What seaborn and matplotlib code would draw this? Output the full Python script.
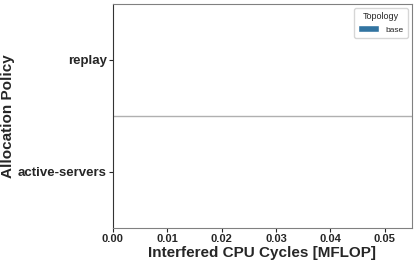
import pandas as pd
import numpy as np
import matplotlib
matplotlib.use('Agg')
import matplotlib.pyplot as plt
from matplotlib.patches import Patch
import seaborn as sns

# data: interfered cycles per policy (all zero in this run)
policies = ['replay', 'active-servers']
topologies = ['base', 'base']
values = [0.0, 0.0]

df = pd.DataFrame({'Allocation Policy': policies,
                   'Topology': topologies,
                   'Interfered CPU Cycles [MFLOP]': values})

sns.set_style('ticks')
plt.rcParams['font.family'] = ['Liberation Sans', 'DejaVu Sans']

fig, ax = plt.subplots(figsize=(4.15, 2.6), dpi=100)
sns.barplot(data=df, y='Allocation Policy', x='Interfered CPU Cycles [MFLOP]',
            hue='Topology', orient='h', palette=['#3274a1'], ax=ax, legend=False)

ax.axhline(0.5, color='#b0b0b0', linewidth=1)
ax.set_xlim(0, 0.055)
ax.set_xticks([0, 0.01, 0.02, 0.03, 0.04, 0.05])
ax.set_xticklabels(['0.00', '0.01', '0.02', '0.03', '0.04', '0.05'], fontsize=8, fontweight='bold')
ax.set_yticklabels(policies, fontsize=9.5, fontweight='bold')
ax.tick_params(axis='both', length=3, pad=1.5)
ax.set_xlabel('Interfered CPU Cycles [MFLOP]', fontsize=11, fontweight='bold', labelpad=1)
ax.set_ylabel('Allocation Policy', fontsize=11, fontweight='bold', labelpad=2)
for s in ['top', 'right', 'bottom']:
    ax.spines[s].set_color('#808080')
ax.spines['left'].set_color('#333333')

handles = [Patch(facecolor='#3274a1', label='base')]
ax.legend(handles=handles, title='Topology', loc='upper right', fontsize=6,
          title_fontsize=6.5, handlelength=2.5, handleheight=0.9, borderpad=0.5)

plt.subplots_adjust(left=0.272, right=0.993, top=0.985, bottom=0.123)
plt.savefig('out.png', dpi=100)
